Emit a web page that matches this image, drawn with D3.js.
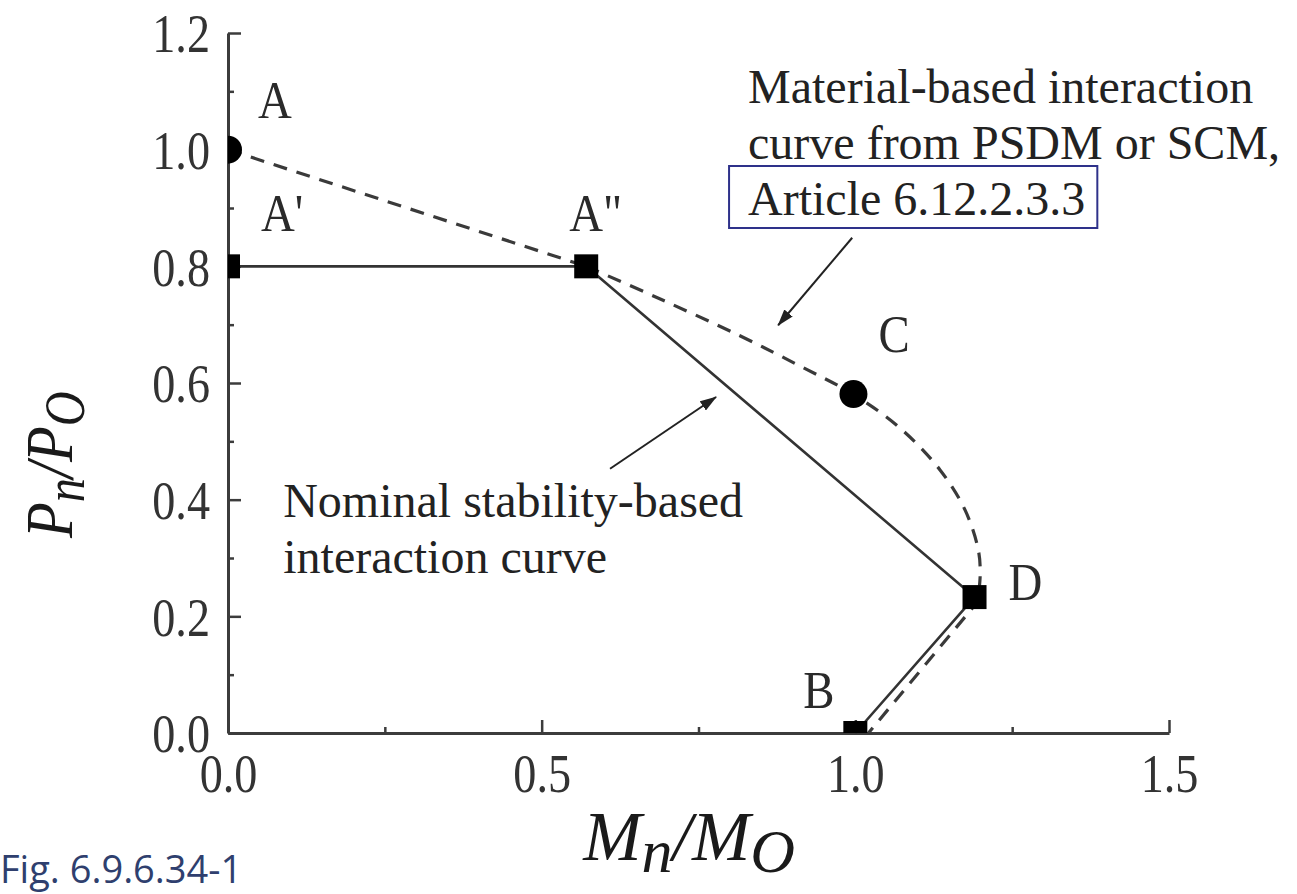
<!DOCTYPE html>
<html><head><meta charset="utf-8">
<script src="https://cdn.jsdelivr.net/npm/d3@7"></script>
<style>
html,body{margin:0;padding:0;background:#fff;overflow:hidden}
svg{display:block}
</style></head><body>
<svg id="chart" width="1297" height="894"></svg>
<script>
// ---------- data ----------
const xTicks = [0, 0.5, 1.0, 1.5];
const xMinorTicks = [0.25, 0.75, 1.25];
const yTicks = [0, 0.2, 0.4, 0.6, 0.8, 1.0, 1.2];
const yMinorTicks = [0.1, 0.3, 0.5, 0.7, 0.9, 1.1];

// nominal stability-based interaction curve (solid): A' -> A" -> D -> B
const stabilityX = [0, 0.571, 1.19, 1.0];
const stabilityY = [0.8, 0.8, 0.233, 0.0];

// material-based interaction curve (dashed)
const materialLineX = [0, 0.571];
const materialLineY = [1.0, 0.8];
const materialCurveX = [0.571, 0.689, 0.816, 0.912, 0.996, 1.071, 1.135, 1.175, 1.196, 1.199, 1.195];
const materialCurveY = [0.8, 0.744, 0.681, 0.629, 0.581, 0.523, 0.451, 0.382, 0.314, 0.271, 0.225];
const materialTailX = [1.195, 1.021];
const materialTailY = [0.225, 0.0];

// labelled points
const pointNames = ["A", "A'", "A\"", "C", "D", "B"];
const pointX = [0, 0, 0.571, 0.997, 1.19, 1.0];
const pointY = [1.0, 0.8, 0.8, 0.581, 0.233, 0.0];
const pointShapes = ["circle", "square", "square", "circle", "square", "square"];

// annotations
const materialNote = ["Material-based interaction", "curve from PSDM or SCM,", "Article 6.12.2.3.3"];
const stabilityNote = ["Nominal stability-based", "interaction curve"];
const noteAnchorX = [0.829, 0.088];
const noteAnchorY = [1.080, 0.370];
const arrowFromX = [0.995, 0.609];
const arrowFromY = [0.849, 0.453];
const arrowToX = [0.877, 0.778];
const arrowToY = [0.699, 0.576];
const xTitle = ["M", "n", "/M", "O"];
const yTitle = ["P", "n", "/P", "O"];
const figCaption = "Fig. 6.9.6.34-1";

// ---------- drawing ----------
const W = 1297, H = 894;
const svg = d3.select("#chart");
svg.append("rect").attr("width", W).attr("height", H).attr("fill", "#fff");

const x = d3.scaleLinear().domain([0, 1.5]).range([228, 1169]);
const y = d3.scaleLinear().domain([0, 1.2]).range([733, 33]);

const serif = "'Liberation Serif','Times New Roman',Times,serif";
const ink = "#222";
const axisColor = "#3c3c3c";

// clip to the plot area (markers at the axes are cut in half)
const defs = svg.append("defs");
defs.append("clipPath").attr("id", "plotClip")
  .append("rect")
  .attr("x", x(0)).attr("y", y(1.2))
  .attr("width", x(1.5) - x(0)).attr("height", y(0) - y(1.2));

defs.append("marker").attr("id", "arrowHead")
  .attr("markerUnits", "userSpaceOnUse")
  .attr("markerWidth", 17).attr("markerHeight", 11)
  .attr("refX", 16).attr("refY", 5.5).attr("orient", "auto")
  .append("path").attr("d", "M0,0 L17,5.5 L0,11 Z").attr("fill", ink);

const tickFont = 55, condense = 0.84;

// x axis
const gx = svg.append("g").attr("transform", `translate(0,${y(0)})`);
gx.call(d3.axisBottom(x).tickValues(xTicks).tickSizeInner(-13).tickSizeOuter(0)
  .tickFormat(d3.format(".1f")));
gx.append("g").call(d3.axisBottom(x).tickValues(xMinorTicks).tickSizeInner(-6)
  .tickSizeOuter(0).tickFormat(""))
  .select(".domain").remove();
gx.selectAll("text")
  .attr("y", 59).attr("dy", 0)
  .attr("transform", `scale(${condense},1)`)
  .attr("font-family", serif).attr("font-size", tickFont).attr("fill", "#333");

// y axis
const gy = svg.append("g").attr("transform", `translate(${x(0)},0)`);
gy.call(d3.axisLeft(y).tickValues(yTicks).tickSizeInner(-13).tickSizeOuter(0)
  .tickFormat(d3.format(".1f")));
gy.append("g").call(d3.axisLeft(y).tickValues(yMinorTicks).tickSizeInner(-6)
  .tickSizeOuter(0).tickFormat(""))
  .select(".domain").remove();
gy.selectAll("text")
  .attr("x", -18 / condense).attr("dy", "0.34em")
  .attr("transform", `scale(${condense},1)`)
  .attr("font-family", serif).attr("font-size", tickFont).attr("fill", "#333");

svg.selectAll(".domain").attr("stroke", axisColor).attr("stroke-width", 3);
svg.selectAll(".tick line").attr("stroke", axisColor).attr("stroke-width", 2.5);

// curves
const zip = (xs, ys) => xs.map((v, i) => [v, ys[i]]);
const lineLin = d3.line().x(d => x(d[0])).y(d => y(d[1]));
const lineSmooth = d3.line().x(d => x(d[0])).y(d => y(d[1])).curve(d3.curveCatmullRom.alpha(0.5));

const gLines = svg.append("g");
gLines.append("path").datum(zip(stabilityX, stabilityY)).attr("d", lineLin)
  .attr("fill", "none").attr("stroke", "#333").attr("stroke-width", 2.6)
  .attr("stroke-linejoin", "round");

const dashStyle = sel => sel.attr("fill", "none").attr("stroke", "#3a3a3a")
  .attr("stroke-width", 3.2).attr("stroke-dasharray", "14,10");
gLines.append("path").datum(zip(materialLineX, materialLineY)).attr("d", lineLin).call(dashStyle);
gLines.append("path").datum(zip(materialCurveX, materialCurveY)).attr("d", lineSmooth).call(dashStyle);
gLines.append("path").datum(zip(materialTailX, materialTailY)).attr("d", lineLin).call(dashStyle)
  .attr("stroke-dashoffset", 4);

// markers
const gPts = svg.append("g").attr("clip-path", "url(#plotClip)");
gPts.selectAll("path").data(pointNames).join("path")
  .attr("transform", (d, i) => `translate(${x(pointX[i])},${y(pointY[i])})`)
  .attr("d", (d, i) => pointShapes[i] === "circle"
    ? d3.symbol(d3.symbolCircle, Math.PI * 14 * 14)()
    : d3.symbol(d3.symbolSquare, 24 * 24)())
  .attr("fill", "#000");

// point labels (offsets in px from the point)
const labelDx = [30, 33, -17, 25, 34, -52];
const labelDy = [-32, -35, -35, -42, 3, -25];
svg.append("g").selectAll("text").data(pointNames).join("text")
  .attr("transform", (d, i) => `translate(${x(pointX[i]) + labelDx[i]},${y(pointY[i]) + labelDy[i]}) scale(0.9,1)`)
  .attr("font-family", serif).attr("font-size", 52).attr("fill", "#2a2a2a")
  .text(d => d);

// annotations
const noteFont = 48, noteStep = 56;
const gNote1 = svg.append("g");
materialNote.forEach((t, i) => {
  gNote1.append("text").attr("x", x(noteAnchorX[0])).attr("y", y(noteAnchorY[0]) + i * noteStep)
    .attr("font-family", serif).attr("font-size", noteFont).attr("fill", ink).text(t);
});
const lastLine = gNote1.selectAll("text").nodes()[2].getBBox();
const boxBase = y(noteAnchorY[0]) + 2 * noteStep;
gNote1.append("rect")
  .attr("x", lastLine.x - 19).attr("y", boxBase - 49)
  .attr("width", lastLine.width + 19 + 12).attr("height", 62)
  .attr("fill", "none").attr("stroke", "#2e318a").attr("stroke-width", 2);

const gNote2 = svg.append("g");
stabilityNote.forEach((t, i) => {
  gNote2.append("text").attr("x", x(noteAnchorX[1])).attr("y", y(noteAnchorY[1]) + i * noteStep)
    .attr("font-family", serif).attr("font-size", noteFont).attr("fill", ink).text(t);
});

// arrows
svg.append("g").selectAll("line").data(arrowFromX).join("line")
  .attr("x1", (d, i) => x(arrowFromX[i])).attr("y1", (d, i) => y(arrowFromY[i]))
  .attr("x2", (d, i) => x(arrowToX[i])).attr("y2", (d, i) => y(arrowToY[i]))
  .attr("stroke", ink).attr("stroke-width", 2).attr("marker-end", "url(#arrowHead)");

// axis titles
function title(g, parts, big, small, shift) {
  const t = g.append("text").attr("font-family", serif).attr("font-style", "italic")
    .attr("fill", "#1a1a1a").attr("text-anchor", "middle");
  parts.forEach((p, i) => {
    const sub = i % 2 === 1;
    t.append("tspan").attr("font-size", sub ? small : big)
      .attr("dy", i === 0 ? 0 : (sub ? shift : -shift)).text(p);
  });
  return t;
}
const gxTitle = svg.append("g").attr("transform", `translate(${x(0.735)},860)`);
title(gxTitle, xTitle, 70, 62, 12);

const gyTitle = svg.append("g").attr("transform", `translate(72,${y(0.46)}) rotate(-90) scale(0.86,1)`);
title(gyTitle, yTitle, 68, 56, 12);

// caption
svg.append("text").attr("x", 0).attr("y", 883)
  .attr("font-family", "'Open Sans','Noto Sans',sans-serif").attr("font-size", 38)
  .attr("fill", "#2f3f6e").text(figCaption);
</script>
</body></html>
